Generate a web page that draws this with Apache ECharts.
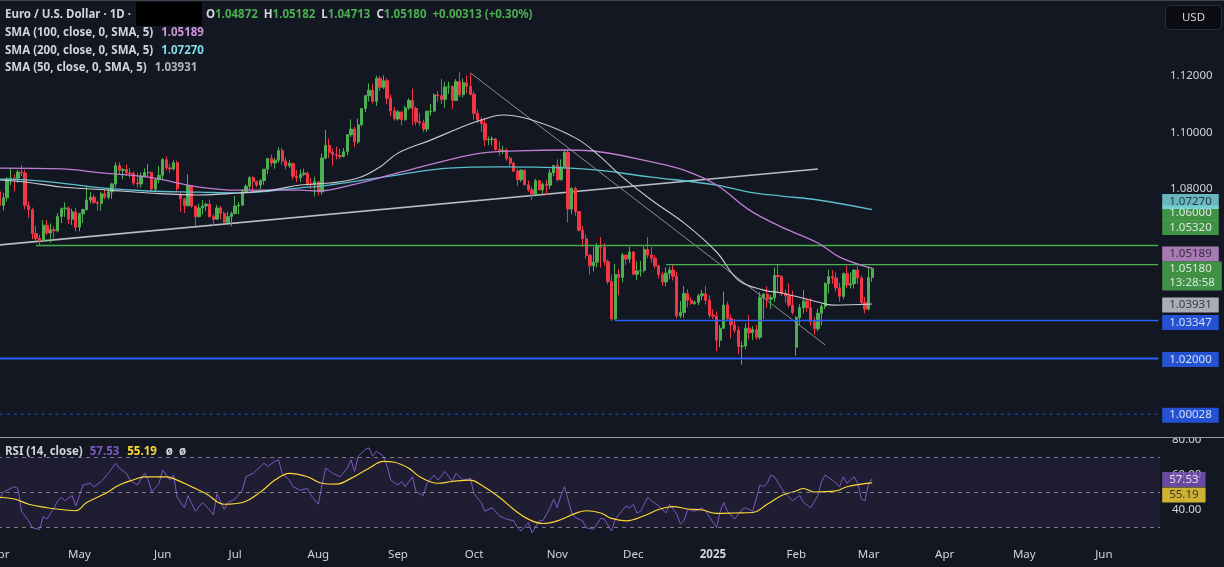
<!DOCTYPE html>
<html>
<head>
<meta charset="utf-8">
<title>EUR/USD 1D</title>
<script src="https://cdn.jsdelivr.net/npm/echarts@6/dist/echarts.min.js"></script>
<style>
  html, body { margin: 0; padding: 0; background: #131722; }
  #chart { width: 1224px; height: 567px; }
</style>
</head>
<body>
<div id="chart"></div>
<script>
// EUR/USD daily: candles, SMA 50/100/200, RSI(14) pane

const startDate = '2024-04-01';
const totalBars = 321;            // weekdays shown, future slots included
const monthNames = ['Jan', 'Feb', 'Mar', 'Apr', 'May', 'Jun', 'Jul', 'Aug', 'Sep', 'Oct', 'Nov', 'Dec'];
const priceLabels = [1.08, 1.10, 1.12];
const rsiLabels = [80, 60, 40];

// [open, close, low, high]
const candles = [
  [1.0790, 1.0742, 1.0733, 1.0803], [1.0742, 1.0769, 1.0724, 1.0787], [1.0769, 1.0836, 1.0756, 1.0841], [1.0836, 1.0839, 1.0813, 1.0876], [1.0839, 1.0838, 1.0792, 1.0852],
  [1.0838, 1.0860, 1.0822, 1.0868], [1.0860, 1.0857, 1.0845, 1.0885], [1.0857, 1.0742, 1.0728, 1.0868], [1.0742, 1.0727, 1.0697, 1.0756], [1.0727, 1.0642, 1.0622, 1.0734],
  [1.0642, 1.0625, 1.0617, 1.0669], [1.0625, 1.0617, 1.0601, 1.0638], [1.0617, 1.0672, 1.0615, 1.0689], [1.0672, 1.0644, 1.0637, 1.0690], [1.0644, 1.0656, 1.0610, 1.0678],
  [1.0656, 1.0652, 1.0624, 1.0667], [1.0652, 1.0703, 1.0647, 1.0714], [1.0703, 1.0730, 1.0679, 1.0734], [1.0730, 1.0733, 1.0701, 1.0752], [1.0733, 1.0693, 1.0676, 1.0738],
  [1.0693, 1.0719, 1.0673, 1.0730], [1.0719, 1.0665, 1.0650, 1.0733], [1.0665, 1.0712, 1.0650, 1.0716], [1.0712, 1.0727, 1.0680, 1.0730], [1.0727, 1.0761, 1.0724, 1.0812],
  [1.0761, 1.0771, 1.0749, 1.0790], [1.0771, 1.0752, 1.0748, 1.0780], [1.0752, 1.0749, 1.0724, 1.0759], [1.0749, 1.0783, 1.0724, 1.0790], [1.0783, 1.0771, 1.0765, 1.0798],
  [1.0771, 1.0790, 1.0764, 1.0801], [1.0790, 1.0818, 1.0765, 1.0822], [1.0818, 1.0883, 1.0806, 1.0895], [1.0883, 1.0866, 1.0852, 1.0895], [1.0866, 1.0869, 1.0834, 1.0875],
  [1.0869, 1.0857, 1.0846, 1.0887], [1.0857, 1.0855, 1.0840, 1.0875], [1.0855, 1.0821, 1.0813, 1.0862], [1.0821, 1.0818, 1.0805, 1.0858], [1.0818, 1.0846, 1.0805, 1.0858],
  [1.0846, 1.0858, 1.0842, 1.0873], [1.0858, 1.0859, 1.0845, 1.0889], [1.0859, 1.0800, 1.0789, 1.0861], [1.0800, 1.0833, 1.0792, 1.0838], [1.0833, 1.0849, 1.0821, 1.0882],
  [1.0849, 1.0904, 1.0834, 1.0910], [1.0904, 1.0875, 1.0866, 1.0916], [1.0875, 1.0871, 1.0857, 1.0889], [1.0871, 1.0893, 1.0866, 1.0902], [1.0893, 1.0801, 1.0791, 1.0900],
  [1.0780, 1.0765, 1.0720, 1.0788], [1.0765, 1.0741, 1.0715, 1.0769], [1.0741, 1.0812, 1.0739, 1.0852], [1.0812, 1.0739, 1.0734, 1.0814], [1.0739, 1.0702, 1.0668, 1.0742],
  [1.0702, 1.0733, 1.0700, 1.0748], [1.0733, 1.0740, 1.0710, 1.0761], [1.0740, 1.0746, 1.0723, 1.0752], [1.0746, 1.0702, 1.0700, 1.0762], [1.0702, 1.0693, 1.0671, 1.0710],
  [1.0693, 1.0733, 1.0692, 1.0744], [1.0733, 1.0714, 1.0692, 1.0740], [1.0714, 1.0682, 1.0677, 1.0720], [1.0682, 1.0702, 1.0680, 1.0720], [1.0702, 1.0713, 1.0668, 1.0720],
  [1.0713, 1.0740, 1.0710, 1.0776], [1.0740, 1.0743, 1.0710, 1.0754], [1.0743, 1.0790, 1.0739, 1.0799], [1.0790, 1.0810, 1.0785, 1.0816], [1.0810, 1.0840, 1.0796, 1.0845],
  [1.0840, 1.0826, 1.0790, 1.0845], [1.0826, 1.0814, 1.0806, 1.0830], [1.0814, 1.0830, 1.0800, 1.0834], [1.0830, 1.0870, 1.0815, 1.0871], [1.0870, 1.0908, 1.0852, 1.0910],
  [1.0908, 1.0892, 1.0880, 1.0922], [1.0892, 1.0902, 1.0872, 1.0911], [1.0902, 1.0936, 1.0893, 1.0948], [1.0936, 1.0899, 1.0886, 1.0945], [1.0899, 1.0882, 1.0869, 1.0911],
  [1.0882, 1.0890, 1.0874, 1.0902], [1.0890, 1.0845, 1.0834, 1.0894], [1.0845, 1.0840, 1.0824, 1.0867], [1.0840, 1.0852, 1.0825, 1.0869], [1.0852, 1.0856, 1.0845, 1.0872],
  [1.0856, 1.0818, 1.0810, 1.0861], [1.0818, 1.0815, 1.0800, 1.0839], [1.0815, 1.0826, 1.0774, 1.0844], [1.0826, 1.0790, 1.0777, 1.0828], [1.0790, 1.0910, 1.0780, 1.0926],
  [1.0910, 1.0955, 1.0905, 1.1009], [1.0955, 1.0930, 1.0910, 1.0978], [1.0930, 1.0922, 1.0882, 1.0944], [1.0922, 1.0919, 1.0905, 1.0950], [1.0919, 1.0915, 1.0906, 1.0942],
  [1.0915, 1.0932, 1.0912, 1.0945], [1.0932, 1.0992, 1.0920, 1.0994], [1.0992, 1.1012, 1.0984, 1.1047], [1.1012, 1.0967, 1.0948, 1.1020], [1.0967, 1.1027, 1.0960, 1.1049],
  [1.1027, 1.1085, 1.1022, 1.1086], [1.1085, 1.1130, 1.1072, 1.1133], [1.1130, 1.1150, 1.1110, 1.1174], [1.1150, 1.1110, 1.1103, 1.1172], [1.1110, 1.1192, 1.1094, 1.1201],
  [1.1192, 1.1160, 1.1147, 1.1200], [1.1160, 1.1183, 1.1154, 1.1202], [1.1183, 1.1121, 1.1100, 1.1192], [1.1121, 1.1077, 1.1057, 1.1135], [1.1077, 1.1048, 1.1042, 1.1090],
  [1.1048, 1.1073, 1.1042, 1.1080], [1.1073, 1.1045, 1.1025, 1.1074], [1.1045, 1.1087, 1.1042, 1.1095], [1.1087, 1.1113, 1.1079, 1.1121], [1.1113, 1.1085, 1.1026, 1.1155],
  [1.1085, 1.1038, 1.1025, 1.1092], [1.1038, 1.1034, 1.1024, 1.1068], [1.1034, 1.1012, 1.1001, 1.1045], [1.1012, 1.1075, 1.1002, 1.1078], [1.1075, 1.1076, 1.1060, 1.1101],
  [1.1076, 1.1133, 1.1072, 1.1138], [1.1133, 1.1130, 1.1108, 1.1146], [1.1130, 1.1117, 1.1101, 1.1190], [1.1117, 1.1161, 1.1088, 1.1179], [1.1161, 1.1163, 1.1137, 1.1180],
  [1.1163, 1.1113, 1.1083, 1.1166], [1.1113, 1.1180, 1.1112, 1.1189], [1.1180, 1.1134, 1.1125, 1.1214], [1.1134, 1.1176, 1.1124, 1.1191], [1.1176, 1.1163, 1.1139, 1.1202],
  [1.1163, 1.1135, 1.1132, 1.1209], [1.1135, 1.1068, 1.1045, 1.1145], [1.1068, 1.1045, 1.1033, 1.1083], [1.1045, 1.1031, 1.1003, 1.1055], [1.1031, 1.0974, 1.0951, 1.1052],
  [1.0974, 1.0975, 1.0955, 1.0985], [1.0975, 1.0977, 1.0954, 1.0987], [1.0977, 1.0940, 1.0936, 1.0981], [1.0940, 1.0935, 1.0918, 1.0969], [1.0935, 1.0937, 1.0924, 1.0953],
  [1.0937, 1.0909, 1.0900, 1.0945], [1.0909, 1.0891, 1.0880, 1.0915], [1.0891, 1.0863, 1.0860, 1.0897], [1.0863, 1.0833, 1.0811, 1.0872], [1.0833, 1.0867, 1.0825, 1.0869],
  [1.0867, 1.0815, 1.0812, 1.0867], [1.0815, 1.0797, 1.0790, 1.0830], [1.0797, 1.0782, 1.0761, 1.0809], [1.0782, 1.0829, 1.0779, 1.0836], [1.0829, 1.0797, 1.0795, 1.0832],
  [1.0797, 1.0817, 1.0785, 1.0823], [1.0817, 1.0813, 1.0778, 1.0832], [1.0813, 1.0857, 1.0800, 1.0870], [1.0857, 1.0883, 1.0845, 1.0885], [1.0883, 1.0833, 1.0826, 1.0905],
  [1.0833, 1.0878, 1.0830, 1.0905], [1.0878, 1.0930, 1.0871, 1.0937], [1.0930, 1.0729, 1.0682, 1.0937], [1.0729, 1.0802, 1.0711, 1.0806], [1.0802, 1.0720, 1.0705, 1.0808],
  [1.0720, 1.0654, 1.0650, 1.0722], [1.0654, 1.0624, 1.0595, 1.0669], [1.0624, 1.0565, 1.0554, 1.0639], [1.0565, 1.0528, 1.0497, 1.0570], [1.0528, 1.0541, 1.0508, 1.0594],
  [1.0541, 1.0597, 1.0522, 1.0609], [1.0597, 1.0594, 1.0522, 1.0630], [1.0594, 1.0543, 1.0530, 1.0608], [1.0543, 1.0472, 1.0462, 1.0550], [1.0472, 1.0340, 1.0332, 1.0497],
  [1.0340, 1.0497, 1.0335, 1.0534], [1.0497, 1.0487, 1.0424, 1.0517], [1.0487, 1.0566, 1.0469, 1.0574], [1.0566, 1.0552, 1.0530, 1.0568], [1.0552, 1.0577, 1.0538, 1.0596],
  [1.0577, 1.0498, 1.0495, 1.0580], [1.0498, 1.0510, 1.0478, 1.0544], [1.0510, 1.0512, 1.0490, 1.0546], [1.0512, 1.0586, 1.0504, 1.0597], [1.0586, 1.0566, 1.0555, 1.0630],
  [1.0566, 1.0555, 1.0540, 1.0595], [1.0555, 1.0528, 1.0518, 1.0566], [1.0528, 1.0497, 1.0484, 1.0531], [1.0497, 1.0471, 1.0457, 1.0507], [1.0471, 1.0502, 1.0455, 1.0523],
  [1.0502, 1.0513, 1.0480, 1.0525], [1.0513, 1.0491, 1.0476, 1.0534], [1.0491, 1.0351, 1.0342, 1.0508], [1.0351, 1.0363, 1.0343, 1.0403], [1.0363, 1.0430, 1.0344, 1.0456],
  [1.0430, 1.0406, 1.0381, 1.0445], [1.0406, 1.0395, 1.0390, 1.0417], [1.0395, 1.0399, 1.0390, 1.0405], [1.0399, 1.0422, 1.0389, 1.0429], [1.0422, 1.0429, 1.0406, 1.0443],
  [1.0429, 1.0406, 1.0391, 1.0457], [1.0406, 1.0354, 1.0344, 1.0424], [1.0354, 1.0350, 1.0340, 1.0375], [1.0350, 1.0265, 1.0225, 1.0366], [1.0265, 1.0307, 1.0240, 1.0318],
  [1.0307, 1.0389, 1.0306, 1.0437], [1.0389, 1.0342, 1.0335, 1.0401], [1.0342, 1.0319, 1.0272, 1.0356], [1.0319, 1.0300, 1.0290, 1.0340], [1.0300, 1.0243, 1.0215, 1.0314],
  [1.0243, 1.0244, 1.0178, 1.0260], [1.0244, 1.0307, 1.0233, 1.0324], [1.0307, 1.0291, 1.0268, 1.0354], [1.0291, 1.0302, 1.0266, 1.0314], [1.0302, 1.0275, 1.0266, 1.0318],
  [1.0275, 1.0416, 1.0267, 1.0435], [1.0416, 1.0428, 1.0340, 1.0431], [1.0428, 1.0410, 1.0380, 1.0455], [1.0410, 1.0415, 1.0375, 1.0425], [1.0415, 1.0494, 1.0400, 1.0522],
  [1.0494, 1.0490, 1.0435, 1.0532], [1.0490, 1.0430, 1.0420, 1.0495], [1.0430, 1.0422, 1.0397, 1.0444], [1.0422, 1.0389, 1.0380, 1.0466], [1.0389, 1.0363, 1.0355, 1.0440],
  [1.0240, 1.0345, 1.0210, 1.0350], [1.0345, 1.0380, 1.0320, 1.0392], [1.0380, 1.0403, 1.0360, 1.0442], [1.0403, 1.0380, 1.0365, 1.0415], [1.0380, 1.0330, 1.0315, 1.0413],
  [1.0330, 1.0305, 1.0284, 1.0347], [1.0305, 1.0360, 1.0296, 1.0376], [1.0360, 1.0385, 1.0317, 1.0392], [1.0385, 1.0465, 1.0375, 1.0470], [1.0465, 1.0490, 1.0430, 1.0514],
  [1.0490, 1.0485, 1.0464, 1.0513], [1.0485, 1.0450, 1.0437, 1.0505], [1.0450, 1.0420, 1.0401, 1.0468], [1.0420, 1.0500, 1.0410, 1.0505], [1.0500, 1.0460, 1.0450, 1.0528],
  [1.0460, 1.0465, 1.0448, 1.0505], [1.0465, 1.0513, 1.0448, 1.0517], [1.0513, 1.0485, 1.0464, 1.0528], [1.0485, 1.0398, 1.0390, 1.0493], [1.0398, 1.0375, 1.0360, 1.0418],
  [1.0375, 1.0487, 1.0370, 1.0524], [1.04872, 1.05180, 1.04713, 1.05182]
];

// moving averages (bar index -> value)
const sma50Bar = [0, 7, 17, 30, 41, 55, 66, 75, 83, 91, 99, 105, 110, 119, 127, 133, 139, 147, 159, 166, 172, 180, 189, 198, 204, 211, 216, 226, 230, 241];
const sma50Val = [1.0832, 1.0825, 1.0807, 1.0796, 1.0786, 1.0779, 1.0786, 1.0796, 1.0814, 1.0821, 1.0839, 1.0878, 1.0927, 1.0973, 1.1016, 1.1044, 1.1062, 1.1044, 1.0981, 1.0913, 1.0842, 1.0761, 1.0680, 1.0577, 1.0478, 1.0442, 1.0432, 1.0400, 1.0389, 1.03931];
const sma100Bar = [0, 17, 28, 41, 55, 66, 83, 88, 97, 110, 124, 133, 143, 157, 166, 180, 189, 198, 207, 216, 226, 232, 241];
const sma100Val = [1.0874, 1.0871, 1.0857, 1.0842, 1.0807, 1.0796, 1.0796, 1.0793, 1.0814, 1.0857, 1.0903, 1.0927, 1.0935, 1.0938, 1.0931, 1.0896, 1.0867, 1.0814, 1.0726, 1.0665, 1.0609, 1.0559, 1.05189];
const sma200Bar = [0, 7, 17, 28, 41, 55, 66, 83, 91, 110, 124, 138, 161, 180, 198, 207, 216, 226, 241];
const sma200Val = [1.0835, 1.0832, 1.0821, 1.0804, 1.0793, 1.0789, 1.0786, 1.0804, 1.0814, 1.0850, 1.0874, 1.0878, 1.0871, 1.0842, 1.0814, 1.0789, 1.0775, 1.0761, 1.07270];

// horizontal levels and their first bar
const levelValues = [1.06000, 1.05320, 1.03347, 1.02000, 1.00028];
const levelStart = [10, 184, 170, 0, 0];
// trend lines: [bar, price] -> [bar, price]
const trendRise = [[0, 1.0602], [226, 1.0871]];
const trendFall = [[130, 1.1211], [228, 1.0248]];

// RSI(14) and its moving average
const rsiBar = [0, 1, 4, 5, 6, 8, 9, 11, 12, 13, 15, 16, 17, 18, 20, 21, 22, 23, 25, 26, 28, 30, 32, 33, 35, 36, 38, 40, 41, 42,
  44, 45, 47, 48, 49, 51, 52, 54, 56, 57, 59, 60, 62, 63, 65, 67, 68, 70, 71, 73, 74, 76, 77, 78, 80, 81, 83, 85, 86, 88,
  89, 90, 92, 94, 96, 97, 98, 99, 101, 102, 103, 104, 106, 107, 108, 110, 111, 112, 114, 115, 117, 118, 120, 121, 123, 125, 126, 128, 130, 131,
  133, 134, 136, 138, 140, 142, 143, 144, 146, 147, 149, 150, 152, 153, 154, 155, 156, 158, 159, 161, 162, 164, 166, 167, 169, 170, 173, 174, 175, 176,
  177, 179, 180, 182, 184, 185, 187, 188, 189, 190, 192, 194, 195, 198, 199, 200, 201, 203, 205, 206, 208, 210, 211, 212, 213, 214, 216, 217, 219, 221,
  222, 224, 226, 227, 228, 230, 232, 233, 234, 236, 237, 238, 239, 240, 241];
const rsiVal = [46, 50, 53, 52, 39, 33.5, 29.6, 28.6, 36, 34.5, 41, 45, 47, 45, 48, 42, 48, 54, 55, 53, 56, 60.7, 66.5, 63.6, 60.7, 56.8, 54, 60.7, 56.8, 50,
  55, 62.6, 56.8, 59.7, 47, 41, 48, 39, 44, 42, 37, 49, 40, 44, 46, 51, 58.7, 60.7, 62.6, 66.5, 64.6, 67.5, 68.4, 60.7, 56.8, 53, 51, 52, 48, 43,
  54, 63.6, 60.7, 58.7, 63.6, 68.4, 61.7, 70.4, 74.3, 75.2, 70.4, 73.3, 70.4, 64.6, 56.8, 54, 56, 53, 58.7, 50, 48, 55, 59.7, 56.8, 61.7, 56, 60.7, 56.8, 57.8, 49,
  44, 39, 41, 36.4, 34.5, 33.5, 29.6, 27.7, 32.5, 26.7, 33.5, 33.5, 41, 46, 41, 48, 53, 38, 35.4, 33.5, 29.6, 28.6, 35, 34.5, 27.7, 34.5, 42, 41, 43, 38,
  39, 47, 45, 42, 38, 43, 37.4, 31.6, 33.5, 40, 39, 41, 39, 29.6, 39, 44, 39, 34.5, 40, 41, 39, 54, 53, 55, 59.7, 58.7, 52, 49, 45, 48,
  44, 41, 48, 56, 59.7, 56.8, 53, 58.7, 55, 58.7, 55, 46, 45, 55, 57.53];
const rsiMaBar = [0, 4, 8, 13, 17, 21, 24, 29, 33, 37, 40, 46, 49, 53, 57, 62, 67, 72, 76, 80, 85, 89, 93, 97, 102, 106, 109, 113, 116, 121,
  125, 130, 133, 138, 142, 146, 150, 154, 159, 162, 166, 169, 173, 178, 182, 186, 190, 194, 198, 203, 208, 212, 216, 220, 222, 225, 231, 234, 238, 241];
const rsiMaVal = [47, 46, 43, 41, 40, 39.3, 44, 49, 54, 57, 58.7, 58.7, 56.8, 53, 49, 43, 44, 50, 56.8, 60.7, 58.7, 55, 54.5, 57.8, 63.6, 67.5, 67, 63.6, 58.7, 55,
  56, 56.8, 54, 47, 40, 34.5, 32, 33.5, 37.8, 39.3, 38, 34.9, 33.5, 36.4, 40, 41.7, 40.3, 39.7, 37.8, 38, 38.3, 43, 48, 50.6, 52, 50, 50.6, 53, 54.5, 55.19];

// right-scale price tags
const priceTagValues = [1.06000, 1.05320, 1.07270, 1.05189, 1.05180, 1.03931, 1.03347, 1.02000, 1.00028];
const countdown = '13:28:58';
const rsiTagValues = [57.53, 55.19];

const UP = '#4caf50', DOWN = '#f23645', BLUE = '#2962ff', TXT = '#d1d4dc', BG = '#131722';
const FONT = 'Noto Sans';
const tagStyles = [
  { bg: UP, fg: '#ffffff', dy: -32.5 },
  { bg: UP, fg: '#ffffff', dy: -37.2 },
  { bg: '#80deea', fg: BG, dy: -8.1 },
  { bg: '#ce93d8', fg: BG, dy: -14.4 },
  { bg: UP, fg: '#ffffff', dy: 7.4 },
  { bg: '#d1d4dc', fg: BG, dy: 1 },
  { bg: BLUE, fg: '#ffffff', dy: 2 },
  { bg: BLUE, fg: '#ffffff', dy: 1 },
  { bg: BLUE, fg: '#ffffff', dy: 1 }
];
const rsiTagStyles = [
  { bg: '#7e57c2', fg: '#ffffff', dy: 0.7 },
  { bg: '#fdd835', fg: BG, dy: 12 }
];
const levelStyles = [
  { color: '#43b047', width: 1.6, type: 'solid', opacity: 1 },
  { color: UP, width: 1.3, type: 'solid', opacity: 1 },
  { color: BLUE, width: 1.6, type: 'solid', opacity: 1 },
  { color: BLUE, width: 1.8, type: 'solid', opacity: 1 },
  { color: BLUE, width: 1, type: [3, 4], opacity: 0.75 }
];

// weekday categories
function buildDates() {
  const out = [];
  const d = new Date(startDate + 'T00:00:00Z');
  while (out.length < totalBars) {
    const wd = d.getUTCDay();
    if (wd !== 0 && wd !== 6) out.push(d.toISOString().slice(0, 10));
    d.setUTCDate(d.getUTCDate() + 1);
  }
  return out;
}
const dates = buildDates();
const lastSlot = dates.length - 1;
function isMonthStart(i) {
  return i === 0 || dates[i].slice(0, 7) !== dates[i - 1].slice(0, 7);
}
function pairs(bars, vals) {
  return bars.map((b, i) => [b, vals[i]]);
}
function near(list, v, eps) {
  return list.some(x => Math.abs(x - v) < eps);
}
// a straight drawn line as its own small series
function drawnLine(name, from, to, style, z) {
  return {
    name: name, type: 'line', xAxisIndex: 0, yAxisIndex: 0,
    data: [from, to], showSymbol: false, silent: true, z: z,
    lineStyle: style
  };
}

const chart = echarts.init(document.getElementById('chart'), null, { renderer: 'canvas' });

const tagLabel = (st, text) => ({
  show: true,
  position: 'right',
  distance: 4,
  offset: [0, st.dy],
  formatter: text,
  color: st.fg,
  backgroundColor: st.bg,
  padding: [1, 7, 0, 7],
  fontFamily: FONT,
  fontSize: 11.5,
  lineHeight: 14
});

const drawnSeries = [
  drawnLine('trend up', trendRise[0], trendRise[1], { color: '#b8bcc6', width: 1.6 }, 1),
  drawnLine('trend down', trendFall[0], trendFall[1], { color: '#8a8e99', width: 1 }, 1)
].concat(levelValues.map((v, i) => drawnLine('level ' + i, [levelStart[i], v], [lastSlot, v], levelStyles[i], 3)));

const gridBase = { outerBoundsMode: 'none', containLabel: false };

const option = {
  backgroundColor: BG,
  animation: false,
  textStyle: { fontFamily: FONT },
  title: [
    {
      left: 5, top: 9, padding: 0,
      text: '{t|Euro / U.S. Dollar · 1D ·}',
      textStyle: { rich: { t: { color: TXT, fontSize: 11.5, fontFamily: FONT } } }
    },
    {
      left: 206, top: 9, padding: 0,
      text: '{k|O}{g|1.04872}{s|H}{g|1.05182}{s|L}{g|1.04713}{s|C}{g|1.05180}{c|+0.00313 (+0.30%)}',
      textStyle: {
        rich: {
          k: { color: TXT, fontSize: 11.5, fontFamily: FONT },
          s: { color: TXT, fontSize: 11.5, fontFamily: FONT, padding: [0, 0, 0, 6] },
          g: { color: UP, fontSize: 11.5, fontFamily: FONT },
          c: { color: UP, fontSize: 11.5, fontFamily: FONT, padding: [0, 0, 0, 6] }
        }
      }
    },
    {
      left: 5, top: 27, padding: 0,
      text: '{t|SMA (100, close, 0, SMA, 5)}{v|1.05189}',
      textStyle: { rich: { t: { color: TXT, fontSize: 11.5, fontFamily: FONT }, v: { color: '#ce93d8', fontSize: 11.5, fontFamily: FONT, padding: [0, 0, 0, 8] } } }
    },
    {
      left: 5, top: 45, padding: 0,
      text: '{t|SMA (200, close, 0, SMA, 5)}{v|1.07270}',
      textStyle: { rich: { t: { color: TXT, fontSize: 11.5, fontFamily: FONT }, v: { color: '#80deea', fontSize: 11.5, fontFamily: FONT, padding: [0, 0, 0, 8] } } }
    },
    {
      left: 5, top: 62, padding: 0,
      text: '{t|SMA (50, close, 0, SMA, 5)}{v|1.03931}',
      textStyle: { rich: { t: { color: TXT, fontSize: 11.5, fontFamily: FONT }, v: { color: '#b2b5be', fontSize: 11.5, fontFamily: FONT, padding: [0, 0, 0, 8] } } }
    },
    {
      left: 5, top: 446, padding: 0,
      text: '{t|RSI (14, close)}{p|57.53}{y|55.19}{t2|ø  ø}',
      textStyle: {
        rich: {
          t: { color: TXT, fontSize: 11.5, fontFamily: FONT },
          p: { color: '#7e57c2', fontSize: 11.5, fontFamily: FONT, padding: [0, 0, 0, 7] },
          y: { color: '#fdd835', fontSize: 11.5, fontFamily: FONT, padding: [0, 0, 0, 8] },
          t2: { color: TXT, fontSize: 11.5, fontFamily: FONT, padding: [0, 0, 0, 9] }
        }
      }
    }
  ],
  graphic: [
    { type: 'line', z: 100, shape: { x1: 0, y1: 0.5, x2: 1224, y2: 0.5 }, style: { stroke: '#434651', lineWidth: 1 } },
    { type: 'rect', z: 100, shape: { x: 136, y: 2, width: 66, height: 24 }, style: { fill: '#000000' } },
    {
      type: 'group', left: 1165, top: 5, z: 100,
      children: [
        { type: 'rect', shape: { x: 0, y: 0, width: 56, height: 24, r: 4 }, style: { fill: '#0c0d12', stroke: '#2a2e39', lineWidth: 1 } },
        { type: 'text', x: 28, y: 12, style: { text: 'USD', fill: TXT, font: '11.5px "Noto Sans"', align: 'center', verticalAlign: 'middle' } }
      ]
    },
    { type: 'rect', z: 90, shape: { x: 1150, y: 426, width: 74, height: 11 }, style: { fill: BG } },
    { type: 'line', z: 100, shape: { x1: 0, y1: 437.5, x2: 1224, y2: 437.5 }, style: { stroke: '#9598a1', lineWidth: 1 } }
  ],
  grid: [
    Object.assign({ left: -2, width: 1162, top: 19.5, height: 395.5 }, gridBase),
    Object.assign({ left: -2, width: 1162, top: 439.5, height: 105 }, gridBase)
  ],
  xAxis: [
    {
      type: 'category', gridIndex: 0, data: dates, boundaryGap: true,
      axisLine: { show: false }, axisTick: { show: false }, axisLabel: { show: false }, splitLine: { show: false }
    },
    {
      type: 'category', gridIndex: 1, data: dates, boundaryGap: true,
      axisLine: { show: false }, axisTick: { show: false }, splitLine: { show: false },
      axisLabel: {
        interval: (i) => isMonthStart(i),
        margin: 4,
        align: 'center',
        color: TXT,
        fontSize: 11.5,
        fontFamily: FONT,
        formatter: (v) => {
          const m = +v.slice(5, 7);
          return m === 1 ? '{b|' + v.slice(0, 4) + '}' : monthNames[m - 1];
        },
        rich: {
          b: { fontWeight: 'bold', color: TXT, fontSize: 11.5, fontFamily: FONT }
        }
      }
    }
  ],
  yAxis: [
    {
      type: 'value', gridIndex: 0, position: 'right', min: 1.00, max: 1.14, interval: 0.02, scale: true,
      axisLine: { show: false }, axisTick: { show: false }, splitLine: { show: false },
      axisLabel: {
        margin: 10, color: TXT, fontSize: 11.5, fontFamily: FONT,
        formatter: (v) => near(priceLabels, v, 1e-6) ? v.toFixed(5) : ''
      }
    },
    {
      type: 'value', gridIndex: 1, position: 'right', min: 20, max: 80, interval: 20,
      axisLine: { show: false }, axisTick: { show: false }, splitLine: { show: false },
      axisLabel: {
        margin: 12, color: TXT, fontSize: 11.5, fontFamily: FONT,
        formatter: (v) => near(rsiLabels, v, 1e-6) ? v.toFixed(2) : ''
      }
    }
  ],
  series: drawnSeries.concat([
    {
      name: 'EURUSD',
      type: 'candlestick',
      xAxisIndex: 0, yAxisIndex: 0,
      barWidth: 2.8, z: 2,
      data: candles,
      itemStyle: { color: UP, color0: DOWN, borderColor: UP, borderColor0: DOWN, borderWidth: 1 }
    },
    {
      name: 'SMA 200', type: 'line', xAxisIndex: 0, yAxisIndex: 0,
      data: pairs(sma200Bar, sma200Val), smooth: 0.4, showSymbol: false, silent: true,
      lineStyle: { color: '#5bbfd0', width: 1.3 }
    },
    {
      name: 'SMA 100', type: 'line', xAxisIndex: 0, yAxisIndex: 0,
      data: pairs(sma100Bar, sma100Val), smooth: 0.4, showSymbol: false, silent: true,
      lineStyle: { color: '#bf7fd1', width: 1.3 }
    },
    {
      name: 'SMA 50', type: 'line', xAxisIndex: 0, yAxisIndex: 0,
      data: pairs(sma50Bar, sma50Val), smooth: 0.4, showSymbol: false, silent: true,
      lineStyle: { color: '#c9ccd3', width: 1.1 }
    },
    {
      name: 'price tags', type: 'scatter', xAxisIndex: 0, yAxisIndex: 0,
      symbolSize: 0, silent: true, clip: false, z: 5,
      data: priceTagValues.map((v, i) => ({
        value: [lastSlot, v],
        label: tagLabel(tagStyles[i], i === 4 ? v.toFixed(5) + '\n' + countdown : v.toFixed(5))
      }))
    },
    {
      name: 'RSI', type: 'line', xAxisIndex: 1, yAxisIndex: 1,
      data: pairs(rsiBar, rsiVal), showSymbol: false, silent: true,
      lineStyle: { color: '#7e57c2', width: 1 },
      markArea: {
        silent: true,
        itemStyle: { color: 'rgba(126, 87, 194, 0.1)' },
        data: [[{ yAxis: 70 }, { yAxis: 30 }]]
      },
      markLine: {
        silent: true,
        symbol: ['none', 'none'],
        label: { show: false },
        lineStyle: { color: '#787b86', width: 1, type: [4, 4] },
        data: [{ yAxis: 70 }, { yAxis: 50 }, { yAxis: 30 }]
      }
    },
    {
      name: 'RSI MA', type: 'line', xAxisIndex: 1, yAxisIndex: 1,
      data: pairs(rsiMaBar, rsiMaVal), smooth: 0.4, showSymbol: false, silent: true,
      lineStyle: { color: '#fdd835', width: 1.2 }
    },
    {
      name: 'rsi tags', type: 'scatter', xAxisIndex: 1, yAxisIndex: 1,
      symbolSize: 0, silent: true, clip: false, z: 5,
      data: rsiTagValues.map((v, i) => ({
        value: [lastSlot, v],
        label: tagLabel(rsiTagStyles[i], v.toFixed(2))
      }))
    }
  ])
};

chart.setOption(option);
</script>
</body>
</html>
